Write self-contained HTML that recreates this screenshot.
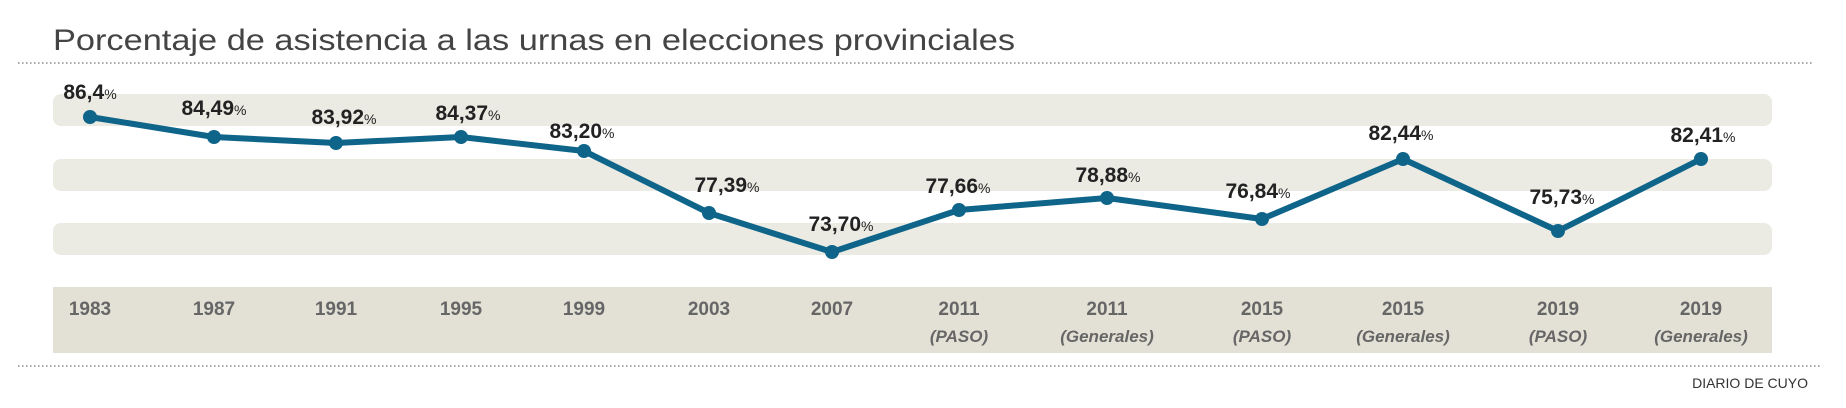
<!DOCTYPE html>
<html><head><meta charset="utf-8"><style>
html,body{margin:0;padding:0;background:#fff;}
svg{display:block;}
text{font-family:"Liberation Sans",sans-serif;}
</style></head><body>
<svg width="1846" height="408" viewBox="0 0 1846 408">
<text x="53" y="50" font-size="30" fill="#444" textLength="962" lengthAdjust="spacingAndGlyphs">Porcentaje de asistencia a las urnas en elecciones provinciales</text>
<line x1="18" y1="63" x2="1814" y2="63" stroke="#888" stroke-width="1.5" stroke-dasharray="1.5 2.5"/>
<rect x="53" y="94" width="1719" height="32" rx="8" fill="#ebeae3"/>
<rect x="53" y="159" width="1719" height="32" rx="8" fill="#ebeae3"/>
<rect x="53" y="223" width="1719" height="32" rx="8" fill="#ebeae3"/>
<rect x="53" y="287" width="1719" height="66" fill="#e3e1d6"/>
<line x1="18" y1="366" x2="1820" y2="366" stroke="#888" stroke-width="1.5" stroke-dasharray="1.5 2.5"/>
<text x="1808" y="388" font-size="14" fill="#333" text-anchor="end">DIARIO DE CUYO</text>
<polyline fill="none" stroke="#0e6489" stroke-width="6" stroke-linejoin="round" points="90,117 214,137 336,143 461,137 584,151 709,213 832,252 959,210 1107,198 1262,219 1403,159 1558,231 1701,159"/>
<g fill="#0e6489">
<circle cx="90" cy="117" r="7"/><circle cx="214" cy="137" r="7"/><circle cx="336" cy="143" r="7"/><circle cx="461" cy="137" r="7"/><circle cx="584" cy="151" r="7"/><circle cx="709" cy="213" r="7"/><circle cx="832" cy="252" r="7"/><circle cx="959" cy="210" r="7"/><circle cx="1107" cy="198" r="7"/><circle cx="1262" cy="219" r="7"/><circle cx="1403" cy="159" r="7"/><circle cx="1558" cy="231" r="7"/><circle cx="1701" cy="159" r="7"/>
</g>
<g font-weight="bold" fill="#222" font-size="21" text-anchor="middle">
<text x="90" y="99">86,4<tspan font-size="14" font-weight="normal">%</tspan></text>
<text x="214" y="115">84,49<tspan font-size="14" font-weight="normal">%</tspan></text>
<text x="344" y="124">83,92<tspan font-size="14" font-weight="normal">%</tspan></text>
<text x="468" y="120">84,37<tspan font-size="14" font-weight="normal">%</tspan></text>
<text x="582" y="138">83,20<tspan font-size="14" font-weight="normal">%</tspan></text>
<text x="727" y="192">77,39<tspan font-size="14" font-weight="normal">%</tspan></text>
<text x="841" y="231">73,70<tspan font-size="14" font-weight="normal">%</tspan></text>
<text x="958" y="193">77,66<tspan font-size="14" font-weight="normal">%</tspan></text>
<text x="1108" y="182">78,88<tspan font-size="14" font-weight="normal">%</tspan></text>
<text x="1258" y="198">76,84<tspan font-size="14" font-weight="normal">%</tspan></text>
<text x="1401" y="140">82,44<tspan font-size="14" font-weight="normal">%</tspan></text>
<text x="1562" y="204">75,73<tspan font-size="14" font-weight="normal">%</tspan></text>
<text x="1703" y="142">82,41<tspan font-size="14" font-weight="normal">%</tspan></text>
</g>
<g font-weight="bold" fill="#666" font-size="19" text-anchor="middle">
<text x="90" y="315">1983</text><text x="214" y="315">1987</text><text x="336" y="315">1991</text><text x="461" y="315">1995</text><text x="584" y="315">1999</text><text x="709" y="315">2003</text><text x="832" y="315">2007</text><text x="959" y="315">2011</text><text x="1107" y="315">2011</text><text x="1262" y="315">2015</text><text x="1403" y="315">2015</text><text x="1558" y="315">2019</text><text x="1701" y="315">2019</text>
</g>
<g font-weight="bold" font-style="italic" fill="#666" font-size="17" text-anchor="middle">
<text x="959" y="342">(PASO)</text><text x="1107" y="342">(Generales)</text><text x="1262" y="342">(PASO)</text><text x="1403" y="342">(Generales)</text><text x="1558" y="342">(PASO)</text><text x="1701" y="342">(Generales)</text>
</g>
</svg>
</body></html>
